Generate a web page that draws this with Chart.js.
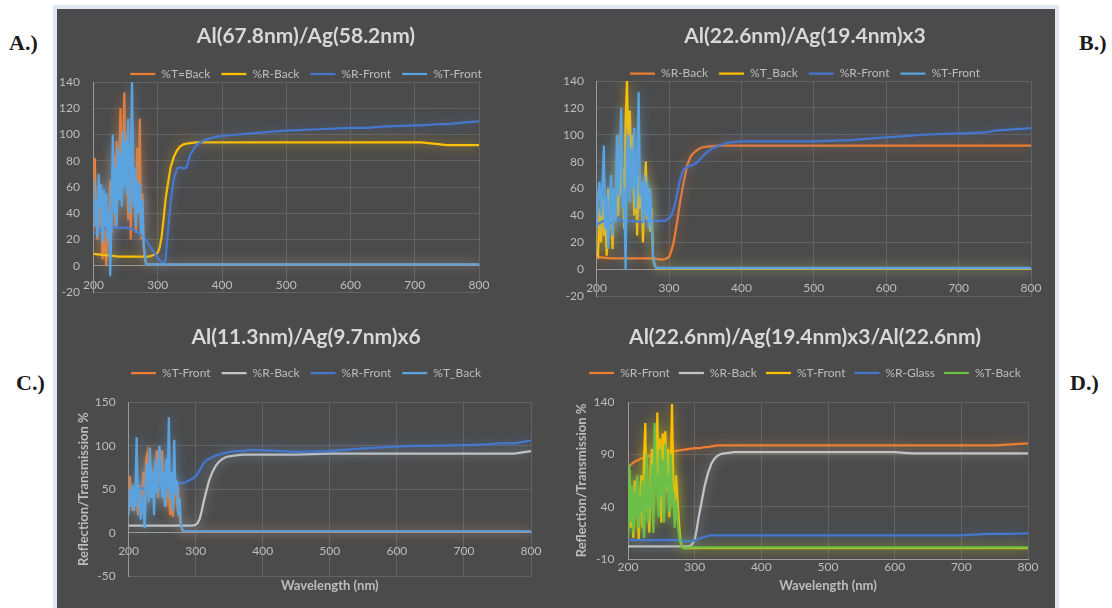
<!DOCTYPE html>
<html>
<head>
<meta charset="utf-8">
<script src="https://cdn.jsdelivr.net/npm/chart.js@4.4.1/dist/chart.umd.min.js"></script>
<style>
  html, body { margin: 0; width: 1112px; height: 608px; background: #fff; overflow: hidden; }
  .panel { position: absolute; left: 53px; top: 5px; width: 998px; height: 620px; background: #4b4b4b; border: 4px solid #dfe8f2; }
  .panel canvas { position: absolute; }
  .tag { position: absolute; font: bold 22px "Liberation Serif", "DejaVu Serif", serif; line-height: 22px; color: #1a1a1a; }
</style>
</head>
<body>
<div class="tag" style="left:9px;top:32px">A.)</div>
<div class="tag" style="left:1079px;top:32px">B.)</div>
<div class="tag" style="left:16px;top:372px">C.)</div>
<div class="tag" style="left:1070px;top:372px">D.)</div>
<div class="panel">
  <canvas id="chartA" width="498" height="300" style="left:0;top:0"></canvas>
  <canvas id="chartB" width="500" height="300" style="left:498px;top:0"></canvas>
  <canvas id="chartC" width="498" height="299" style="left:0;top:300px"></canvas>
  <canvas id="chartD" width="500" height="299" style="left:498px;top:300px"></canvas>
</div>
<script>
// wavelength grids (nm)
const noiseWl = [200, 202, 204, 206, 208, 210, 212, 214, 216, 218, 220, 222, 224, 226, 228, 230, 232, 234, 236, 238, 240, 242, 244, 246, 248, 250, 252, 254, 256, 258, 260, 262, 264, 266, 268, 270, 272, 274, 276, 278, 280, 282, 284, 286];
const tailWl = [290, 300, 400, 500, 600, 700, 800];
const curveWl = [200, 210, 220, 230, 240, 250, 260, 270, 280, 285, 290, 295, 300, 303, 306, 309, 312, 315, 320, 325, 330, 335, 340, 345, 350, 360, 370, 380, 400, 425, 450, 500, 550, 600, 625, 650, 700, 710, 740, 750, 775, 800];

// tick labels
const wlTicks = [200, 300, 400, 500, 600, 700, 800];
const abTicks = [-20, 0, 20, 40, 60, 80, 100, 120, 140];
const cTicks = [-50, 0, 50, 100, 150];
const dTicks = [-10, 40, 90, 140];

// A.) Al(67.8nm)/Ag(58.2nm)
const aTBackNoise = [30, 82, 40, 20, 55, 30, 48, 5, 35, 12, 0, 38, 15, 65, 25, 50, 85, 30, 95, 55, 70, 120, 50, 90, 132, 60, 100, 35, 85, 20, 110, 50, 60, 25, 90, 45, 112, 20, 55, 15, 5, 1, 1, 1];
const aTBackTail = [1, 1, 1, 1, 1, 1, 1];
const aRBack = [9, 8.5, 8, 7.5, 7, 7, 7, 7, 7, 7, 7.5, 8.5, 10, 14, 22, 35, 50, 60, 75, 83, 88, 91, 92.5, 93, 93.5, 94, 94, 94, 94, 94, 94, 94, 94, 94, 94, 94, 94, 94, 92.5, 92, 92, 92];
const aRFront = [24, 27, 29, 29, 29, 29, 28, 25, 21, 17, 13, 10, 6, 4, 3, 2, 4, 22, 48, 66, 74, 75, 74, 75, 84, 92, 95, 97, 99, 100, 101, 103, 104, 105, 105, 106, 107, 107, 108, 108, 109, 110];
const aTFrontNoise = [65, 30, 50, 22, 70, 45, 62, 18, 58, 30, 55, 20, 42, -8, 35, 100, 40, 75, 30, 90, 50, 85, 45, 102, 60, 95, 55, 112, 40, 80, 140, 45, 75, 30, 65, 40, 62, 25, 50, 18, 8, 1, 1, 1];
const aTFrontTail = [1, 1, 1, 1, 1, 1, 1];

// B.) Al(22.6nm)/Ag(19.4nm)x3
const bRBack = [9, 8.5, 8, 8, 8, 8, 8, 8, 8, 7.5, 7, 7.5, 9, 13, 19, 28, 38, 49, 64, 77, 84, 87, 89, 90.5, 91, 91.5, 92, 92, 92, 92, 92, 92, 92, 92, 92, 92, 92, 92, 92, 92, 92, 92];
const bTBackNoise = [12, 10, 45, 20, 55, 25, 40, 10, 60, 30, 50, 15, 58, 35, 80, 40, 100, 55, 75, 30, 110, 140, 85, 118, 60, 100, 40, 80, 25, 70, 45, 65, 20, 55, 80, 35, 60, 28, 45, 8, 3, 1, 0.5, 0.5];
const bTBackTail = [0.5, 0.5, 0.5, 0.5, 0.5, 0.5, 0.5];
const bRFront = [33, 36, 34, 37, 35, 36, 35, 36, 36, 36, 36, 36, 38, 40, 44, 50, 58, 66, 74, 76, 77, 78, 80, 83, 86, 90, 92, 94, 95, 95, 95, 95, 96, 98, 99, 100, 101, 101, 102, 103, 104, 105];
const bTFrontNoise = [30, 55, 65, 40, 62, 92, 30, 55, 15, 45, 70, 25, 60, 35, 100, 55, 85, 120, 45, 60, 0, 75, 100, 50, 90, 60, 105, 45, 80, 132, 55, 65, 35, 70, 40, 65, 30, 60, 35, 10, 4, 1, 1, 1];
const bTFrontTail = [1, 1, 1, 1, 1, 1, 1];

// C.) Al(11.3nm)/Ag(9.7nm)x6
const cTFrontNoise = [35, 65, 40, 25, 50, 30, 45, 20, 55, 35, 45, 70, 30, 85, 92, 50, 40, 75, 55, 45, 65, 95, 40, 80, 55, 95, 60, 70, 30, 60, 45, 20, 55, 18, 50, 55, 35, 45, 20, 8, 3, 1, 1, 1];
const cTFrontTail = [1, 1, 1, 1, 1, 1, 1];
const cRBack = [8, 8, 8, 8, 8, 8, 8, 8, 8, 8, 8, 8, 9, 11, 16, 25, 36, 45, 60, 70, 77, 82, 85, 87, 88, 89, 90, 90, 90, 90, 90, 91, 91, 91, 91, 91, 91, 91, 91, 91, 91, 94];
const cRFront = [48, 50, 51, 52, 53, 54, 55, 56, 57, 58, 60, 62, 65, 68, 72, 76, 80, 83, 85, 87, 89, 90, 91, 92, 93, 94, 94, 95, 95, 94, 93, 94, 97, 99, 100, 100, 101, 101, 102, 103, 103, 106];
const cTBackNoise = [20, 50, 30, 55, 25, 45, 110, 30, 50, 15, 42, 25, 5, 60, 80, 35, 98, 40, 70, 20, 85, 45, 60, 100, 75, 40, 70, 30, 85, 50, 133, 40, 70, 25, 107, 45, 60, 20, 40, 10, 4, 2, 1.5, 1.5];
const cTBackTail = [1.5, 1.5, 1.5, 1.5, 1.5, 1.5, 1.5];

// D.) Al(22.6nm)/Ag(19.4nm)x3/Al(22.6nm)
const dRFront = [78, 83, 86, 88, 90, 91.5, 92.5, 93, 94, 94.5, 95, 95.5, 96, 96, 96, 96, 96.5, 97, 97, 97.5, 98, 98.5, 98.5, 98.5, 98.5, 98.5, 98.5, 98.5, 98.5, 98.5, 98.5, 98.5, 98.5, 98.5, 98.5, 98.5, 98.5, 98.5, 98.5, 98.5, 99.5, 100.5];
const dRBack = [2, 2, 2, 2, 2, 2, 2, 2, 2, 2, 2, 3, 8, 18, 30, 40, 50, 60, 72, 81, 86, 89, 90.5, 91, 91.5, 92, 92, 92, 92, 92, 92, 92, 92, 92, 91, 91, 91, 91, 91, 91, 91, 91];
const dTFrontNoise = [40, 75, 20, 50, 10, 65, 30, 55, 8, 45, 70, 20, 85, 120, 35, 60, 15, 75, 95, 40, 80, 60, 130, 45, 105, 25, 110, 70, 112, 55, 95, 30, 70, 138, 60, 40, 70, 50, 30, 12, 4, 1, 0.5, 0.5];
const dTFrontTail = [0.5, 0.5, 0.5, 0.5, 0.5, 0.5, 0.5];
const dRGlass = [8, 8, 8, 8, 8, 8, 8, 8, 7.5, 7, 7, 7, 7.5, 8, 9, 10, 10.5, 11, 12, 12.5, 12.5, 12.5, 12.5, 12.5, 12.5, 12.5, 12.5, 12.5, 12.5, 12.5, 12.5, 12.5, 12.5, 12.5, 12.5, 12.5, 12.5, 13, 14, 14, 14, 14.5];
const dTBackNoise = [10, 80, 25, 60, 15, 55, 30, 70, 20, 50, 35, 65, 10, 45, 90, 25, 60, 40, 80, 15, 120, 55, 70, 30, 95, 50, 85, 25, 100, 60, 70, 35, 90, 40, 55, 20, 45, 30, 15, 8, 3, 1, 0.5, 0.5];
const dTBackTail = [1, 1, 1, 1, 1, 1, 1];

const ORANGE = '#ed7d31';
const YELLOW = '#ffc000';
const BLUE = '#4677cf';
const SKY = '#5aa3de';
const GRAY = '#c4c4c4';
const GREEN = '#6cc04a';

const FONT = 'Lato, "Liberation Sans", sans-serif';
const GRID = '#636363';
const AXIS = '#9a9a9a';
const TICK = '#bdbdbd';
const HIDDEN = 'rgba(0,0,0,0)';

Chart.defaults.font.family = FONT;

function line(label, color, ...parts) {
  const data = [];
  parts.forEach(([xs, ys]) => xs.forEach((x, i) => data.push({ x: x, y: ys[i] })));
  return {
    label, data,
    borderColor: color, backgroundColor: color,
    borderWidth: 2.25, pointRadius: 0, tension: 0,
    glow: color + 'b0'
  };
}

// soft halo around every series line
const glowPlugin = {
  id: 'glow',
  beforeDatasetDraw(chart, args) {
    const ds = chart.data.datasets[args.index];
    chart.ctx.save();
    chart.ctx.shadowColor = ds.glow;
    chart.ctx.shadowBlur = 12;
  },
  afterDatasetDraw(chart) {
    chart.ctx.restore();
  }
};

// lets the legend band be taller/shorter than Chart.js computes
const legendSpacing = {
  id: 'legendSpacing',
  beforeInit(chart, args, opts) {
    const fit = chart.legend.fit;
    chart.legend.fit = function () {
      fit.call(this);
      this.height += opts.extra || 0;
    };
  }
};

// label offset is made of an invisible tick mark plus a small padding,
// so the padding does not leak into the layout's top/bottom margins
function gap(px) {
  const tl = Math.max(px - 2, 0);
  return { tickLength: tl, padding: px - tl };
}

function buildChart(id, title, datasets, yMin, yMax, yTicks, g, yTitle) {
  const canvas = document.getElementById(id);
  const titleLine = 21 * 1.2;
  const titlePadTop = g.titleY - titleLine / 2;
  const legendTop = g.legendY - 6 - g.legendGap;
  const titlePadBottom = legendTop - titlePadTop - titleLine;
  const legendExtra = g.plotTop - legendTop - (12 + g.legendGap + 10);
  const xg = gap(g.xLabelPad);
  const yg = gap(g.yLabelPad);

  datasets.forEach((d, i) => { d.order = datasets.length - i; });

  const scales = {
    x: {
      type: 'linear', min: 200, max: 800,
      position: g.xAtZero ? { y: 0 } : 'bottom',
      afterBuildTicks: s => { s.ticks = wlTicks.map(v => ({ value: v })); },
      grid: { color: GRID, tickColor: HIDDEN, tickLength: xg.tickLength },
      border: { color: AXIS },
      ticks: { color: TICK, font: { size: 12 }, padding: xg.padding, maxRotation: 0 }
    },
    y: {
      type: 'linear', min: yMin, max: yMax,
      afterBuildTicks: s => { s.ticks = yTicks.map(v => ({ value: v })); },
      afterFit: s => { s.width = g.yWidth; },
      grid: { color: GRID, tickColor: HIDDEN, tickLength: yg.tickLength },
      border: { color: AXIS },
      ticks: { color: TICK, font: { size: 12 }, padding: yg.padding },
      title: {
        display: !!yTitle, text: yTitle, color: TICK,
        font: { size: 13, weight: 'bold' },
        padding: { top: g.yTitleX ? g.yTitleX - 7.8 : 0, bottom: 0 }
      }
    },
    // empty strip on the right of the plot
    yr: {
      type: 'linear', axis: 'y', position: 'right', min: yMin, max: yMax,
      afterFit: s => { s.width = g.padRight; },
      grid: { display: false }, border: { display: false },
      ticks: { display: false }
    }
  };

  const xTitle = {
    display: true, text: 'Wavelength (nm)', color: TICK,
    font: { size: 13, weight: 'bold' },
    padding: { top: 0, bottom: canvas.height - g.xTitleY - 7.8 }
  };
  if (g.xHeight && g.xAtZero) {
    // axis sits at y = 0, so the title gets its own strip under the plot
    scales.xt = {
      type: 'linear', axis: 'x', position: 'bottom', min: 200, max: 800,
      afterFit: s => { s.height = g.xHeight; },
      grid: { display: false }, border: { display: false },
      ticks: { display: false },
      title: xTitle
    };
  } else if (g.xHeight) {
    scales.x.afterFit = s => { s.height = g.xHeight; };
    scales.x.title = xTitle;
  }

  return new Chart(canvas, {
    type: 'line',
    data: { datasets },
    options: {
      responsive: false,
      animation: false,
      layout: { padding: { left: 0, top: 0, right: 0, bottom: g.padBottom } },
      plugins: {
        title: {
          display: true, text: title, color: '#d8d8d8',
          font: { size: 21, weight: 'bold' },
          padding: { top: titlePadTop, bottom: titlePadBottom }
        },
        legend: {
          reverse: true,
          labels: {
            color: TICK, font: { size: 12 },
            usePointStyle: true, pointStyle: 'line', pointStyleWidth: 25,
            padding: g.legendGap
          }
        },
        legendSpacing: { extra: legendExtra },
        tooltip: { enabled: false }
      },
      scales
    },
    plugins: [glowPlugin, legendSpacing]
  });
}

buildChart('chartA', 'Al(67.8nm)/Ag(58.2nm)', [
  line('%T=Back', ORANGE, [noiseWl, aTBackNoise], [tailWl, aTBackTail]),
  line('%R-Back', YELLOW, [curveWl, aRBack]),
  line('%R-Front', BLUE, [curveWl, aRFront]),
  line('%T-Front', SKY, [noiseWl, aTFrontNoise], [tailWl, aTFrontTail])
], -20, 140, abTicks, {
  titleY: 27, legendY: 65, legendGap: 11, plotTop: 73, padBottom: 17,
  yWidth: 36.5, padRight: 76, yLabelPad: 13.5, xAtZero: true, xLabelPad: 12
});

buildChart('chartB', 'Al(22.6nm)/Ag(19.4nm)x3', [
  line('%R-Back', ORANGE, [curveWl, bRBack]),
  line('%T_Back', YELLOW, [noiseWl, bTBackNoise], [tailWl, bTBackTail]),
  line('%R-Front', BLUE, [curveWl, bRFront]),
  line('%T-Front', SKY, [noiseWl, bTFrontNoise], [tailWl, bTFrontTail])
], -20, 140, abTicks, {
  titleY: 27, legendY: 64.5, legendGap: 11, plotTop: 72, padBottom: 13,
  yWidth: 41.6, padRight: 24, yLabelPad: 12.6, xAtZero: true, xLabelPad: 12
});

buildChart('chartC', 'Al(11.3nm)/Ag(9.7nm)x6', [
  line('%T-Front', ORANGE, [noiseWl, cTFrontNoise], [tailWl, cTFrontTail]),
  line('%R-Back', GRAY, [curveWl, cRBack]),
  line('%R-Front', BLUE, [curveWl, cRFront]),
  line('%T_Back', SKY, [noiseWl, cTBackNoise], [tailWl, cTBackTail])
], -50, 150, cTicks, {
  titleY: 28, legendY: 64, legendGap: 11, plotTop: 93.5, padBottom: 0, xHeight: 32,
  yWidth: 71.6, padRight: 24, yLabelPad: 13, yTitleX: 26.5, xAtZero: true, xLabelPad: 11, xTitleY: 277
}, 'Reflection/Transmission %');

buildChart('chartD', 'Al(22.6nm)/Ag(19.4nm)x3/Al(22.6nm)', [
  line('%R-Front', ORANGE, [curveWl, dRFront]),
  line('%R-Back', GRAY, [curveWl, dRBack]),
  line('%T-Front', YELLOW, [noiseWl, dTFrontNoise], [tailWl, dTFrontTail]),
  line('%R-Glass', BLUE, [curveWl, dRGlass]),
  line('%T-Back', GREEN, [noiseWl, dTBackNoise], [tailWl, dTBackTail])
], -10, 140, dTicks, {
  titleY: 28, legendY: 64, legendGap: 9, plotTop: 93, padBottom: 0, xHeight: 49,
  yWidth: 73, padRight: 27, yLabelPad: 13.5, yTitleX: 26.5, xAtZero: false, xLabelPad: 1, xTitleY: 277
}, 'Reflection/Transmission %');
</script>
</body>
</html>
